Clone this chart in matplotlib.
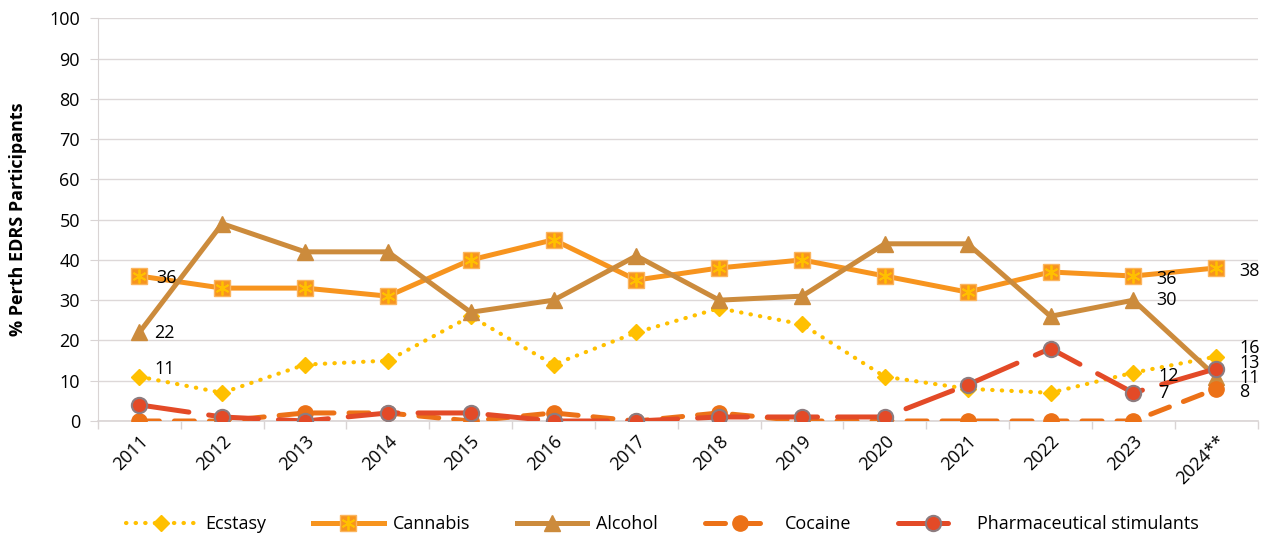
import matplotlib
matplotlib.use("Agg")
import matplotlib.pyplot as plt
import numpy as np

plt.rcParams['font.family'] = ['Open Sans', 'DejaVu Sans']

years = ["2011", "2012", "2013", "2014", "2015", "2016", "2017", "2018",
         "2019", "2020", "2021", "2022", "2023", "2024**"]

ecstasy = [11, 7, 14, 15, 26, 14, 22, 28, 24, 11, 8, 7, 12, 16]
cannabis = [36, 33, 33, 31, 40, 45, 35, 38, 40, 36, 32, 37, 36, 38]
alcohol = [22, 49, 42, 42, 27, 30, 41, 30, 31, 44, 44, 26, 30, 11]
cocaine = [0, 0, 2, 2, 0, 2, 0, 2, 0, 0, 0, 0, 0, 8]
pharma = [4, 1, 0, 2, 2, 0, 0, 1, 1, 1, 9, 18, 7, 13]

# (series, year index, offset in pixels) for the value labels
labels = [
    (cannabis, 0, (17, -2)), (alcohol, 0, (15, -1)), (ecstasy, 0, (15, 8)),
    (cannabis, 12, (23, -3)), (alcohol, 12, (23, 0)), (ecstasy, 12, (25, -3)),
    (pharma, 12, (25, 0)),
    (cannabis, 13, (23, -3)), (ecstasy, 13, (23, 9)), (pharma, 13, (23, 6)),
    (alcohol, 13, (23, -1)), (cocaine, 13, (23, -3)),
]

c_ecs = "#FFC000"
c_can = "#F7941E"
c_alc = "#CC8B3C"
c_coc = "#EC7117"
c_pha = "#E34A27"

x = np.arange(len(years))

fig = plt.figure(figsize=(12.69, 5.37), dpi=100)
ax = fig.add_axes([0.0772, 0.216, 0.9138, 0.750])

l_ecs, = ax.plot(x, ecstasy, color=c_ecs, lw=3, linestyle=(0, (0.1, 2.2)),
                 dash_capstyle='round', marker='D', ms=8, mec=c_ecs, zorder=3)
l_can, = ax.plot(x, cannabis, color=c_can, lw=3.6, marker='s', ms=11,
                 mfc=c_can, mec="#FBB55E", zorder=4)
l_can2, = ax.plot(x, cannabis, linestyle='none', marker=(6, 2, 0), ms=10,
                  mec=c_ecs, mew=1.3, zorder=4)
l_alc, = ax.plot(x, alcohol, color=c_alc, lw=3.6, marker='^', ms=11,
                 mec=c_alc, zorder=5)
l_coc, = ax.plot(x, cocaine, color=c_coc, lw=3.6, linestyle=(0, (4, 3)),
                 dash_capstyle='round', marker='o', ms=11, mec=c_coc, zorder=6)
l_pha, = ax.plot(x, pharma, color=c_pha, lw=3.6, linestyle=(0, (10, 4)),
                 dash_capstyle='round', marker='o', ms=11, mec="#8C7C80",
                 mew=1.5, zorder=7)

for series, i, (dx, dy) in labels:
    ax.annotate(str(series[i]), (x[i], series[i]), xytext=(dx, dy),
                textcoords='offset pixels', ha='left', va='center',
                fontsize=13, color='black', zorder=8)

ax.set_ylim(0, 100)
ax.set_xlim(-0.5, len(years) - 0.5)
ax.set_yticks(np.arange(0, 101, 10))
ax.set_xticks(x)
ax.set_xticklabels(years, rotation=45, ha='right', va='top',
                   rotation_mode='anchor', fontsize=13)
ax.set_xticks(np.arange(-0.5, len(years), 1), minor=True)
ax.tick_params(axis='x', which='major', length=0, pad=8)
ax.tick_params(axis='x', which='minor', length=6, color="#D9D4D4", width=1)
ax.tick_params(axis='y', length=6, color="#D9D4D4", labelsize=13, pad=7)
ax.grid(axis='y', color="#DDD8D8", lw=1)
ax.set_axisbelow(True)
for s in ['top', 'right']:
    ax.spines[s].set_visible(False)
ax.spines['left'].set_color("#D9D4D4")
ax.spines['bottom'].set_color("#D9D4D4")
ax.spines['bottom'].set_linewidth(1.2)

ax.set_ylabel("% Perth EDRS Participants", fontsize=13, fontweight='bold',
              labelpad=16)

fig.legend([l_ecs, (l_can, l_can2), l_alc, l_coc, l_pha],
           ["Ecstasy", "Cannabis", "Alcohol", "Cocaine",
            "Pharmaceutical stimulants"],
           loc='center', bbox_to_anchor=(0.522, 0.024), ncol=5, frameon=False,
           fontsize=13, handlelength=3.9, columnspacing=2.6, handletextpad=0.5,
           numpoints=1)

fig.savefig("out.png", dpi=100)
